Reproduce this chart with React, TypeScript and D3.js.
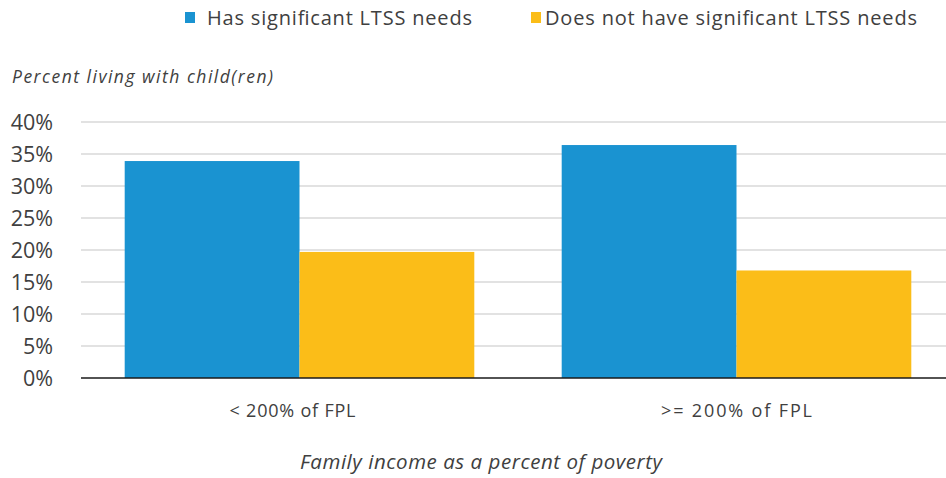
import React from "react";
import * as d3 from "d3";

const categories = ["< 200% of FPL", ">= 200% of FPL"];
const seriesNames = ["Has significant LTSS needs", "Does not have significant LTSS needs"];
const hasNeeds = [33.9, 36.4];
const noNeeds = [19.7, 16.8];
const yTicks = [0, 5, 10, 15, 20, 25, 30, 35, 40];
const colors = ["#1A93D1", "#FBBD18"];

const W = 946;
const H = 478;
const FONT = "'Open Sans', 'Noto Sans', sans-serif";
const TXT = "#404040";

export default function App() {
  const x = d3.scaleBand<string>().domain(categories).range([81, 955]).paddingInner(0).paddingOuter(0);
  const inner = d3.scaleBand<number>().domain([0, 1]).range([0, x.bandwidth()]).paddingInner(0).paddingOuter(0.25);
  const y = d3.scaleLinear().domain([0, 40]).range([378, 122]);
  const series = [hasNeeds, noNeeds];
  const catLen = [126, 151];
  const catShift = [-7, 0];

  return (
    <svg width={W} height={H} style={{ position: "absolute", left: 0, top: 0, background: "#fff" }}>
      <rect x={0} y={0} width={W} height={H} fill="#fff" />
      {/* legend */}
      <rect x={185} y={12} width={10} height={11} fill={colors[0]} />
      <text x={207} y={25} fontFamily={FONT} fontSize={20} fill={TXT} textLength={265} lengthAdjust="spacing">{seriesNames[0]}</text>
      <rect x={531} y={12} width={10} height={11} fill={colors[1]} />
      <text x={545} y={25} fontFamily={FONT} fontSize={20} fill={TXT} textLength={372} lengthAdjust="spacing">{seriesNames[1]}</text>

      {/* y title */}
      <text x={12} y={83} fontFamily={FONT} fontSize={17.5} fontStyle="italic" fill={TXT} textLength={261} lengthAdjust="spacing">Percent living with child(ren)</text>

      {/* gridlines */}
      {yTicks.filter((t) => t > 0).map((t) => (
        <line key={t} x1={81} x2={W} y1={y(t)} y2={y(t)} stroke="#D9D9D9" strokeWidth={1.3} />
      ))}
      {yTicks.map((t) => (
        <text key={"l" + t} x={53} y={y(t) + 8} textAnchor="end" fontFamily={FONT} fontSize={21.5} fill={TXT}>{t}%</text>
      ))}

      {/* bars */}
      {categories.map((c, i) => (
        <g key={c} transform={`translate(${x(c)},0)`}>
          {series.map((s, j) => (
            <rect key={j} x={inner(j)} y={y(s[i])} width={inner.bandwidth()} height={y(0) - y(s[i])} fill={colors[j]} />
          ))}
        </g>
      ))}

      {/* axis */}
      <line x1={81} x2={W} y1={y(0)} y2={y(0)} stroke="#1a1a1a" strokeWidth={1.5} />
      {categories.map((c, i) => (
        <text key={"c" + c} x={(x(c) as number) + x.bandwidth() / 2 + catShift[i]} y={417} textAnchor="middle" fontFamily={FONT} fontSize={18} fill={TXT} textLength={catLen[i]} lengthAdjust="spacing">{c}</text>
      ))}
      <text x={481} y={469} textAnchor="middle" fontFamily={FONT} fontSize={20.5} fontStyle="italic" fill={TXT} textLength={362} lengthAdjust="spacing">Family income as a percent of poverty</text>
    </svg>
  );
}
